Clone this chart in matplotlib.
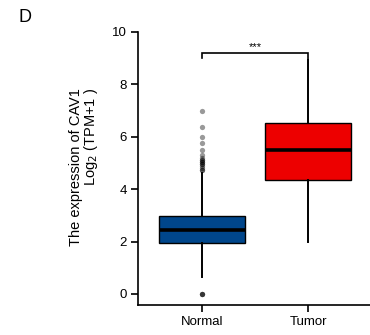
import matplotlib
matplotlib.use("Agg")
import matplotlib.pyplot as plt

plt.rcParams.update({
    "font.family": ["Liberation Sans", "DejaVu Sans"],
    "figure.facecolor": "white",
    "axes.facecolor": "white",
})

# CAV1 expression, log2(TPM+1), summary statistics per group
groups      = ["Normal", "Tumor"]
q1          = [1.93, 4.35]
medians     = [2.44, 5.50]
q3          = [2.98, 6.51]
whisker_lo  = [0.66, 2.00]
whisker_hi  = [4.62, 8.93]
normal_out  = [0.0, 0.0, 0.0, 4.72, 4.72, 4.80, 4.88, 4.95, 4.95, 5.02, 5.02,
               5.10, 5.10, 5.20, 5.30, 5.50, 5.76, 5.99, 6.37, 6.98]
tumor_out   = []
box_colors  = ["#00468B", "#ED0000"]
sig_label   = "***"

fig = plt.figure(figsize=(3.7, 3.35), dpi=100)
ax = fig.add_axes([138 / 370, 1 - 305 / 335, 1 - 138 / 370, (305 - 32) / 335])

stats = []
for i, g in enumerate(groups):
    stats.append({
        "label": g, "q1": q1[i], "med": medians[i], "q3": q3[i],
        "whislo": whisker_lo[i], "whishi": whisker_hi[i],
        "fliers": [normal_out, tumor_out][i],
    })

bp = ax.bxp(stats, positions=[1, 2], widths=0.81, patch_artist=True,
            showcaps=False,
            boxprops=dict(edgecolor="black", linewidth=1.0),
            medianprops=dict(color="black", linewidth=2.6),
            whiskerprops=dict(color="black", linewidth=1.4),
            flierprops=dict(marker="o", markersize=3.8, markerfacecolor="black",
                            markeredgecolor="none", alpha=0.4))
for patch, c in zip(bp["boxes"], box_colors):
    patch.set_facecolor(c)

# significance bracket
ax.plot([1, 1, 2, 2], [9.0, 9.19, 9.19, 8.98], color="black", lw=1.2,
        solid_joinstyle="miter")
ax.text(1.5, 9.25, sig_label, ha="center", va="bottom", fontsize=8)

ax.set_xlim(0.4, 2.58)
ax.set_ylim(-0.42, 10)
ax.set_yticks(range(0, 11, 2))
ax.set_xticks([1, 2])
ax.set_xticklabels(groups)
for s in ("top", "right"):
    ax.spines[s].set_visible(False)
for s in ("left", "bottom"):
    ax.spines[s].set_linewidth(1.2)
ax.tick_params(axis="both", length=5, width=1.2, labelsize=9.5, pad=3)

fig.text(76 / 370, 1 - 88 / 335, "The expression of CAV1", rotation=90,
         ha="center", va="top", fontsize=10.5)
fig.text(91 / 370, 1 - 88 / 335, r"Log$_2$ (TPM+1 )", rotation=90,
         ha="center", va="top", fontsize=10.5)
fig.text(18 / 370, 1 - 18 / 335, "D", ha="left", va="center", fontsize=13)

fig.savefig("out.png", dpi=100)
